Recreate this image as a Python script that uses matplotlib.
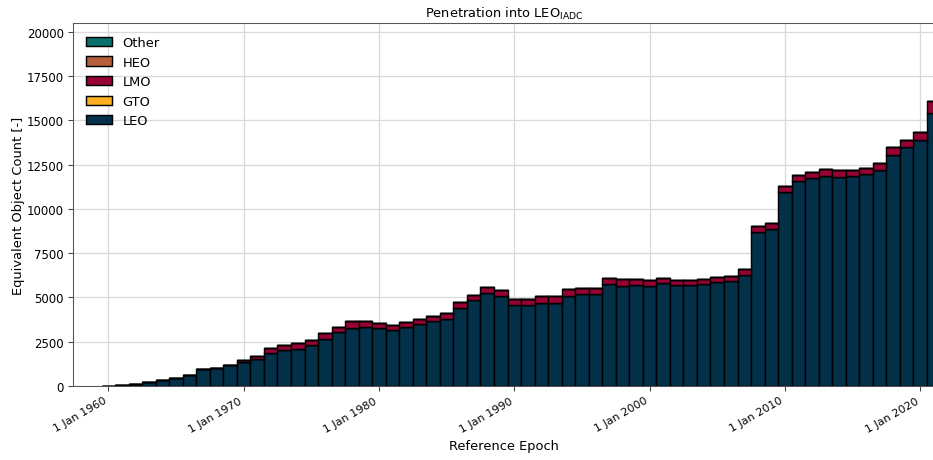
import datetime
import matplotlib
matplotlib.use('Agg')
import matplotlib.pyplot as plt
import matplotlib.dates as mdates
import numpy as np

# yearly data, bars centred on 1 Jan of each year
years = list(range(1960, 2022))
leo = [15, 40, 95, 226, 320, 450, 640, 960, 1035, 1170,
       1350, 1530, 1860, 2020, 2110, 2310, 2660, 3040, 3260, 3310,
       3260, 3165, 3335, 3485, 3655, 3785, 4405, 4840, 5245, 5085,
       4555, 4555, 4710, 4710, 5105, 5180, 5180, 5745, 5670, 5690,
       5660, 5790, 5680, 5680, 5765, 5875, 5935, 6290, 8680, 8870,
       10960, 11580, 11770, 11865, 11810, 11845, 11980, 12220, 13070, 13470,
       13920, 15440]
gto = [0] * len(years)
lmo = [0, 0, 0, 0, 0, 0, 0, 0, 0, 0,
       120, 150, 310, 280, 310, 310, 315, 310, 420, 370,
       280, 300, 300, 300, 320, 320, 340, 320, 345, 340,
       340, 340, 355, 355, 355, 355, 355, 340, 375, 355,
       320, 330, 320, 320, 280, 285, 300, 320, 340, 320,
       320, 340, 320, 375, 375, 340, 355, 360, 400, 450,
       450, 680]
heo = [0] * len(years)
other = [0] * len(years)

series = ['LEO', 'GTO', 'LMO', 'HEO', 'Other']
colors = ['#03314a', '#fdb022', '#960235', '#b5603a', '#08706b']

dates = [datetime.date(y, 1, 1) for y in years]
x = mdates.date2num(dates)

fig = plt.figure(figsize=(934 / 94, 461 / 94), dpi=94)
ax = fig.add_axes([73 / 934, 1 - 387 / 461, 1 - 73 / 934 + 0.001, (387 - 24) / 461])

bottom = np.zeros(len(years))
handles = []
for name, vals, c in zip(series, [leo, gto, lmo, heo, other], colors):
    vals = np.array(vals, dtype=float)
    b = ax.bar(x, vals, width=365, bottom=bottom, color=c, edgecolor='black',
               linewidth=1.1, label=name, align='center')
    handles.append(b)
    bottom += vals

ax.set_axisbelow(True)
ax.grid(True, color='#d9d9d9', linewidth=1.0)

x0 = mdates.date2num(datetime.date(1960, 1, 1))
ax.set_xlim(x0 - 2.61 * 365.25, x0 + 61.09 * 365.25)
ax.set_ylim(0, 20500)
ax.set_yticks(np.arange(0, 20001, 2500))

ax.xaxis.set_major_locator(mdates.YearLocator(10))
ax.xaxis.set_major_formatter(mdates.DateFormatter('1 Jan %Y'))
for lbl in ax.get_xticklabels():
    lbl.set_rotation(30)
    lbl.set_ha('right')
ax.tick_params(axis='x', labelsize=8.5, color='#444444')
ax.tick_params(axis='y', labelsize=9, color='#444444')

for s in ax.spines.values():
    s.set_color('#555555')

ax.set_xlabel('Reference Epoch', fontsize=10)
ax.set_ylabel('Equivalent Object Count [-]', fontsize=10, labelpad=1)
ax.set_title(r'Penetration into LEO$_{\mathrm{IADC}}$', fontsize=10, pad=5)

ax.legend(handles[::-1], series[::-1], loc='upper left', frameon=False,
          fontsize=10, labelspacing=0.5, borderaxespad=0.6)

fig.savefig('out.png', dpi=94)
